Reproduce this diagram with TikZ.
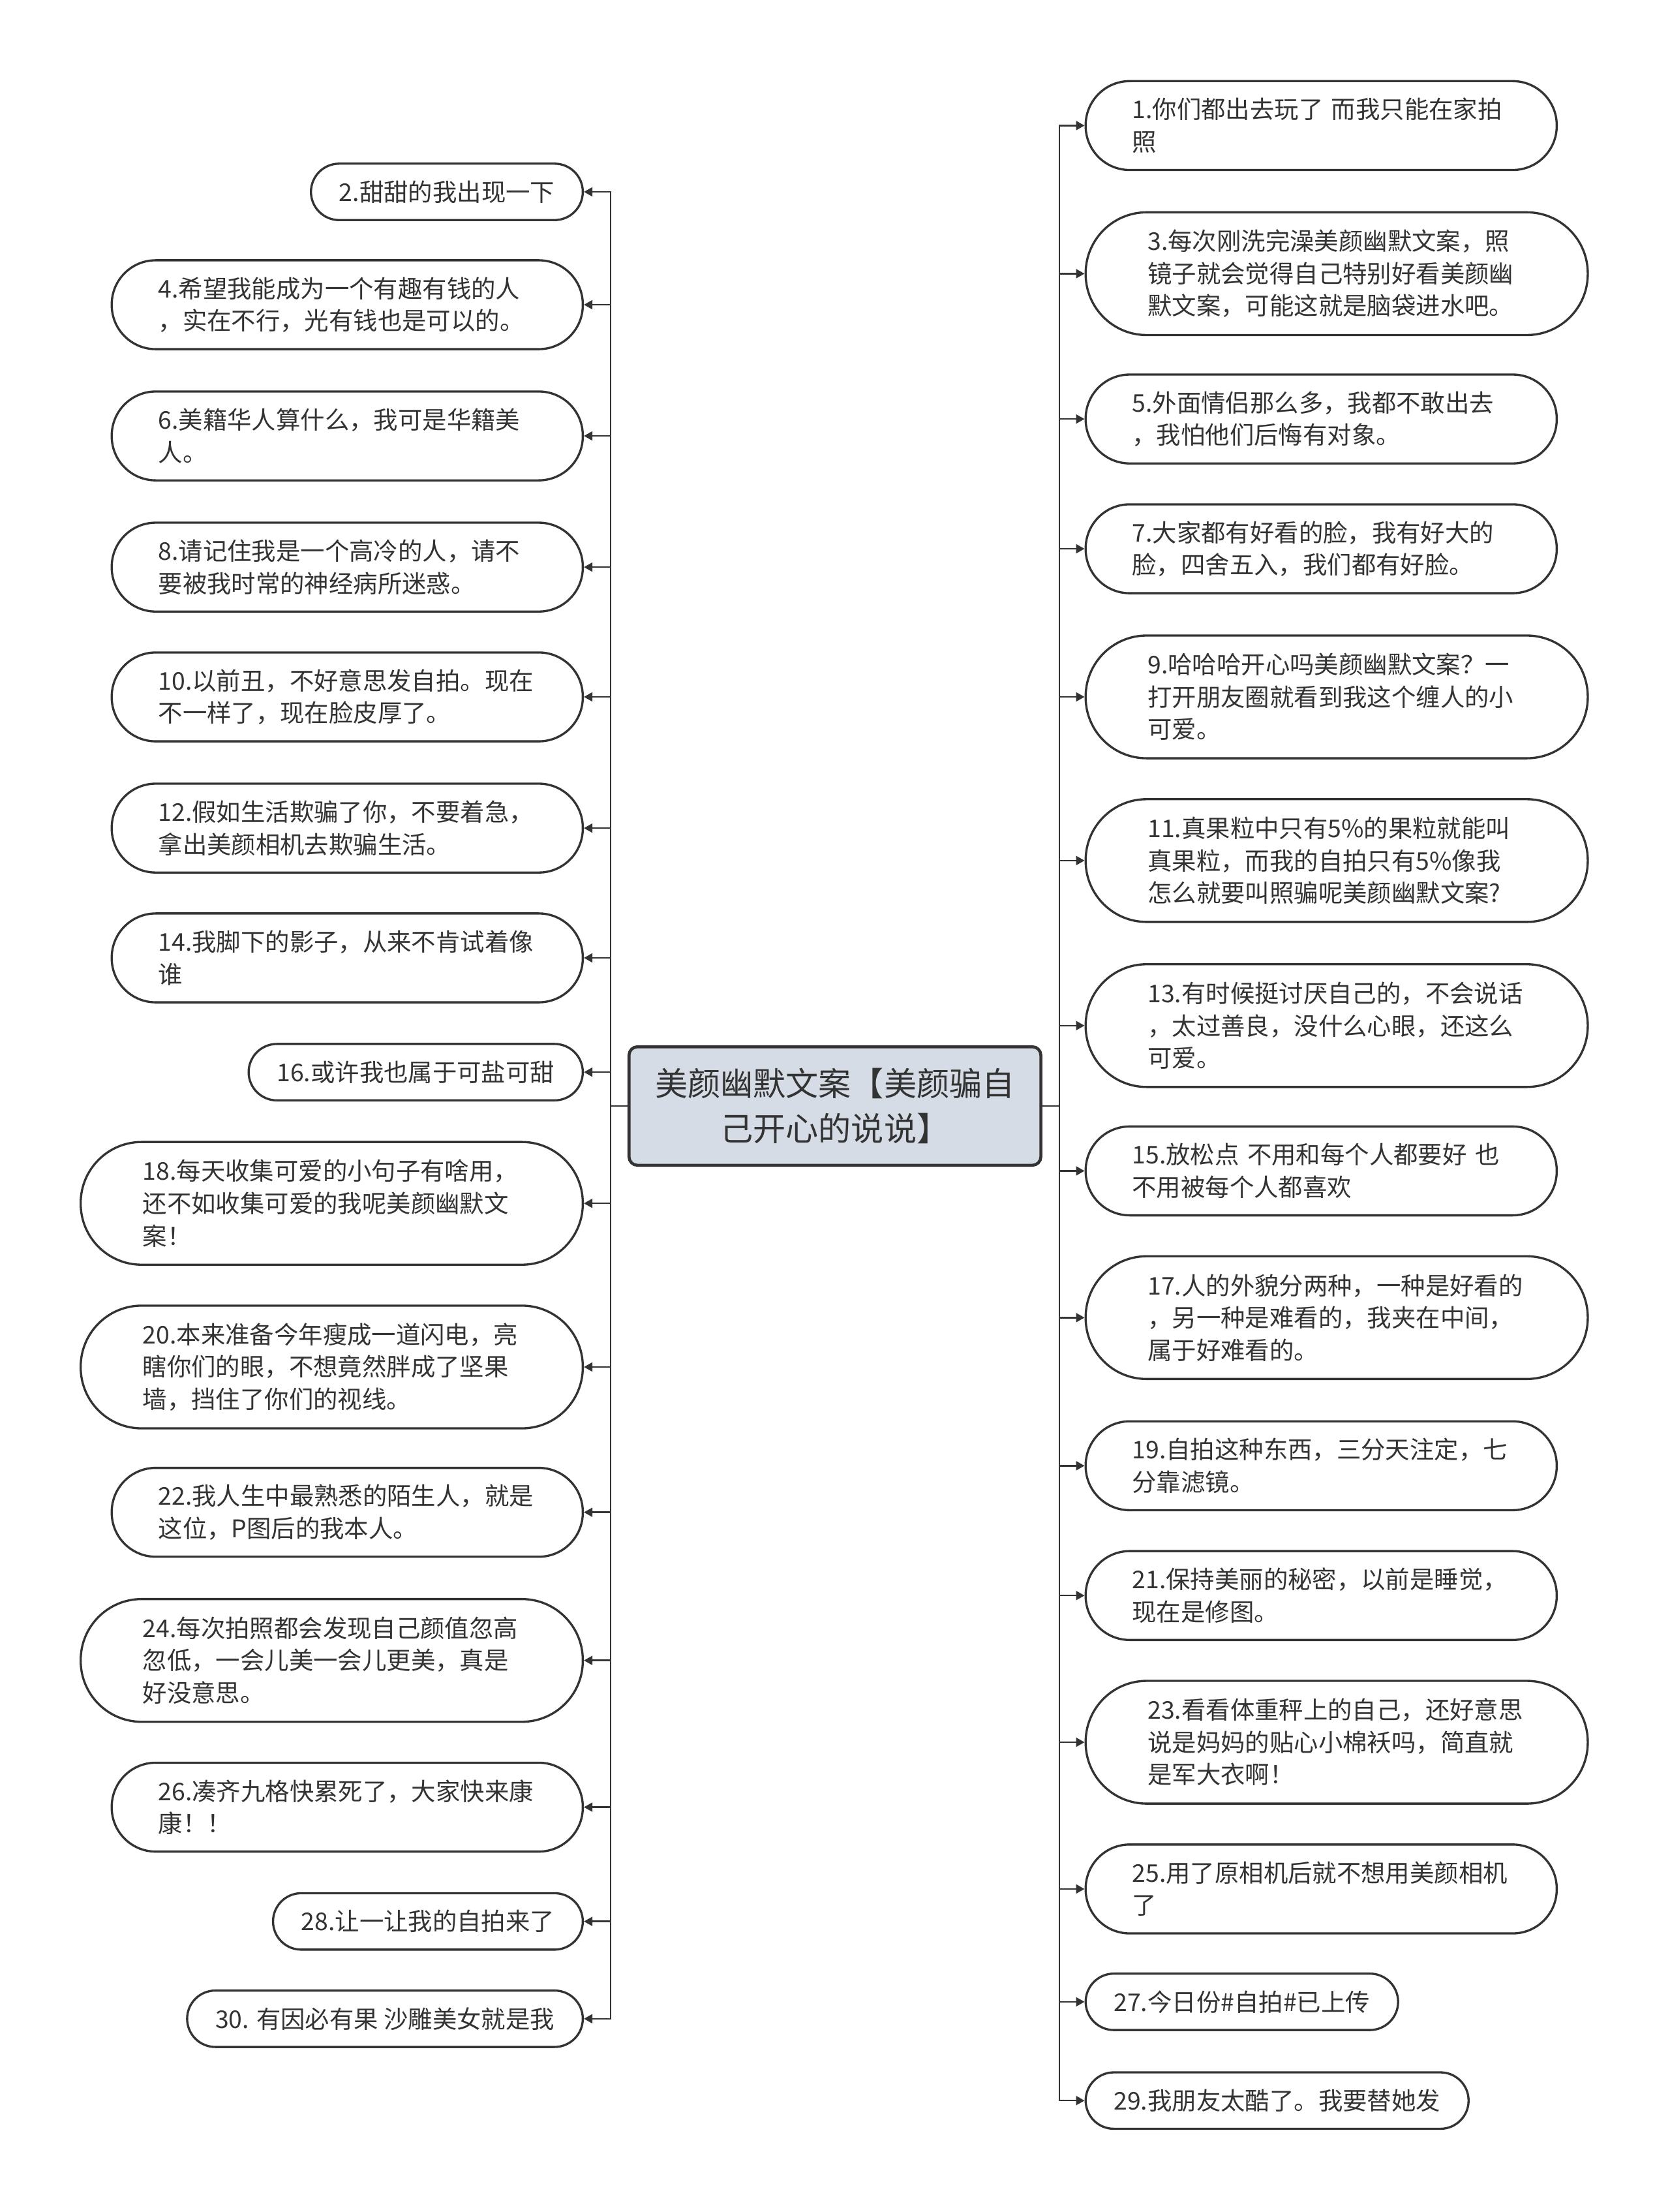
\documentclass[tikz,border=0pt]{standalone}
\usepackage{fontspec}
\setmainfont{Noto Sans CJK SC}
\usetikzlibrary{arrows.meta}
\definecolor{inkgray}{HTML}{333333}
\definecolor{rootfill}{HTML}{D6DCE5}

\begin{document}
\begin{tikzpicture}[x=0.25mm, y=-0.25mm, >={Triangle[length=1.5mm, width=1.6mm]},
    leaf/.style={draw=inkgray, line width=1.1pt, fill=white, text=inkgray, font=\fontsize{12.3pt}{16.3pt}\selectfont},
    leafone/.style={leaf, rounded corners=5mm, minimum height=10mm, inner xsep=5mm, inner ysep=0pt},
    leaftwo/.style={leaf, rounded corners=7.8mm, minimum height=15.75mm, text width=67mm, align=left, inner xsep=8.25mm},
    leafthree/.style={leaf, rounded corners=10.8mm, minimum height=21.75mm, text width=67mm, align=left, inner xsep=11mm},
    root/.style={draw=inkgray, line width=1.5pt, fill=rootfill, rounded corners=1.5mm, minimum width=73mm, minimum height=21mm,
      text width=69mm, inner xsep=2mm, align=center, text=inkgray, font=\fontsize{16.5pt}{22.7pt}\selectfont},
    link/.style={draw=inkgray, line width=0.8pt}]
    \useasboundingbox (0,0) rectangle (1184,1568);
    \node[root] (root) at (592,784) {美颜幽默文案【美颜骗自\\己开心的说说】};
    % left side
    \node[leafone, anchor=east] (n2) at (414,136) {2.甜甜的我出现一下};
    \node[leaftwo, anchor=east] (n4) at (414,216) {4.希望我能成为一个有趣有钱的人\\，实在不行，光有钱也是可以的。};
    \node[leaftwo, anchor=east] (n6) at (414,309) {6.美籍华人算什么，我可是华籍美\\人。};
    \node[leaftwo, anchor=east] (n8) at (414,402) {8.请记住我是一个高冷的人，请不\\要被我时常的神经病所迷惑。};
    \node[leaftwo, anchor=east] (n10) at (414,494) {10.以前丑，不好意思发自拍。现在\\不一样了，现在脸皮厚了。};
    \node[leaftwo, anchor=east] (n12) at (414,587) {12.假如生活欺骗了你，不要着急，\\拿出美颜相机去欺骗生活。};
    \node[leaftwo, anchor=east] (n14) at (414,679) {14.我脚下的影子，从来不肯试着像\\谁};
    \node[leafone, anchor=east] (n16) at (414,760) {16.或许我也属于可盐可甜};
    \node[leafthree, anchor=east] (n18) at (414,853) {18.每天收集可爱的小句子有啥用，\\还不如收集可爱的我呢美颜幽默文\\案！};
    \node[leafthree, anchor=east] (n20) at (414,969) {20.本来准备今年瘦成一道闪电，亮\\瞎你们的眼，不想竟然胖成了坚果\\墙，挡住了你们的视线。};
    \node[leaftwo, anchor=east] (n22) at (414,1072) {22.我人生中最熟悉的陌生人，就是\\这位，P图后的我本人。};
    \node[leafthree, anchor=east] (n24) at (414,1177) {24.每次拍照都会发现自己颜值忽高\\忽低，一会儿美一会儿更美，真是\\好没意思。};
    \node[leaftwo, anchor=east] (n26) at (414,1281) {26.凑齐九格快累死了，大家快来康\\康！！};
    \node[leafone, anchor=east] (n28) at (414,1362) {28.让一让我的自拍来了};
    \node[leafone, anchor=east] (n30) at (414,1431) {30. 有因必有果 沙雕美女就是我};
    % right side
    \node[leaftwo, anchor=west] (n1) at (769,89) {1.你们都出去玩了 而我只能在家拍\\照};
    \node[leafthree, anchor=west] (n3) at (769,194) {3.每次刚洗完澡美颜幽默文案，照\\镜子就会觉得自己特别好看美颜幽\\默文案，可能这就是脑袋进水吧。};
    \node[leaftwo, anchor=west] (n5) at (769,297) {5.外面情侣那么多，我都不敢出去\\，我怕他们后悔有对象。};
    \node[leaftwo, anchor=west] (n7) at (769,389) {7.大家都有好看的脸，我有好大的\\脸，四舍五入，我们都有好脸。};
    \node[leafthree, anchor=west] (n9) at (769,494) {9.哈哈哈开心吗美颜幽默文案？一\\打开朋友圈就看到我这个缠人的小\\可爱。};
    \node[leafthree, anchor=west] (n11) at (769,610) {11.真果粒中只有5\%的果粒就能叫\\真果粒，而我的自拍只有5\%像我\\怎么就要叫照骗呢美颜幽默文案?};
    \node[leafthree, anchor=west] (n13) at (769,727) {13.有时候挺讨厌自己的，不会说话\\，太过善良，没什么心眼，还这么\\可爱。};
    \node[leaftwo, anchor=west] (n15) at (769,830) {15.放松点 不用和每个人都要好 也\\不用被每个人都喜欢};
    \node[leafthree, anchor=west] (n17) at (769,934) {17.人的外貌分两种，一种是好看的\\，另一种是难看的，我夹在中间，\\属于好难看的。};
    \node[leaftwo, anchor=west] (n19) at (769,1039) {19.自拍这种东西，三分天注定，七\\分靠滤镜。};
    \node[leaftwo, anchor=west] (n21) at (769,1131) {21.保持美丽的秘密，以前是睡觉，\\现在是修图。};
    \node[leafthree, anchor=west] (n23) at (769,1235) {23.看看体重秤上的自己，还好意思\\说是妈妈的贴心小棉袄吗，简直就\\是军大衣啊！};
    \node[leaftwo, anchor=west] (n25) at (769,1339) {25.用了原相机后就不想用美颜相机\\了};
    \node[leafone, anchor=west] (n27) at (769,1419) {27.今日份\#自拍\#已上传};
    \node[leafone, anchor=west] (n29) at (769,1489) {29.我朋友太酷了。我要替她发};
    % connectors
    \draw[link, ->] (root.west) -- ++(-12,0) |- (n2.east);
    \draw[link, ->] (root.west) -- ++(-12,0) |- (n4.east);
    \draw[link, ->] (root.west) -- ++(-12,0) |- (n6.east);
    \draw[link, ->] (root.west) -- ++(-12,0) |- (n8.east);
    \draw[link, ->] (root.west) -- ++(-12,0) |- (n10.east);
    \draw[link, ->] (root.west) -- ++(-12,0) |- (n12.east);
    \draw[link, ->] (root.west) -- ++(-12,0) |- (n14.east);
    \draw[link, ->] (root.west) -- ++(-12,0) |- (n16.east);
    \draw[link, ->] (root.west) -- ++(-12,0) |- (n18.east);
    \draw[link, ->] (root.west) -- ++(-12,0) |- (n20.east);
    \draw[link, ->] (root.west) -- ++(-12,0) |- (n22.east);
    \draw[link, ->] (root.west) -- ++(-12,0) |- (n24.east);
    \draw[link, ->] (root.west) -- ++(-12,0) |- (n26.east);
    \draw[link, ->] (root.west) -- ++(-12,0) |- (n28.east);
    \draw[link, ->] (root.west) -- ++(-12,0) |- (n30.east);
    \draw[link, ->] (root.east) -- ++(12,0) |- (n1.west);
    \draw[link, ->] (root.east) -- ++(12,0) |- (n3.west);
    \draw[link, ->] (root.east) -- ++(12,0) |- (n5.west);
    \draw[link, ->] (root.east) -- ++(12,0) |- (n7.west);
    \draw[link, ->] (root.east) -- ++(12,0) |- (n9.west);
    \draw[link, ->] (root.east) -- ++(12,0) |- (n11.west);
    \draw[link, ->] (root.east) -- ++(12,0) |- (n13.west);
    \draw[link, ->] (root.east) -- ++(12,0) |- (n15.west);
    \draw[link, ->] (root.east) -- ++(12,0) |- (n17.west);
    \draw[link, ->] (root.east) -- ++(12,0) |- (n19.west);
    \draw[link, ->] (root.east) -- ++(12,0) |- (n21.west);
    \draw[link, ->] (root.east) -- ++(12,0) |- (n23.west);
    \draw[link, ->] (root.east) -- ++(12,0) |- (n25.west);
    \draw[link, ->] (root.east) -- ++(12,0) |- (n27.west);
    \draw[link, ->] (root.east) -- ++(12,0) |- (n29.west);
\end{tikzpicture}
\end{document}
